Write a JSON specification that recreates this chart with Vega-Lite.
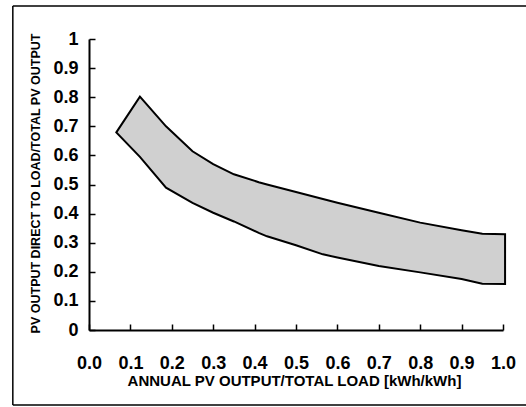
{
  "$schema": "https://vega.github.io/schema/vega-lite/v6.json",
  "width": 414,
  "height": 291,
  "autosize": {"type": "none"},
  "padding": {"left": 89, "top": 39, "right": 23, "bottom": 77},
  "background": "white",
  "config": {
    "view": {"stroke": null},
    "font": "Liberation Sans"
  },
  "resolve": {"axis": {"x": "independent", "y": "independent"}},
  "data": {
    "values": [
      {"x": 0.066, "upper": 0.679, "lower": 0.679},
      {"x": 0.123, "upper": 0.802, "lower": 0.595},
      {"x": 0.186, "upper": 0.70, "lower": 0.489},
      {"x": 0.25, "upper": 0.614, "lower": 0.437},
      {"x": 0.30, "upper": 0.57, "lower": 0.403},
      {"x": 0.35, "upper": 0.535, "lower": 0.373},
      {"x": 0.41, "upper": 0.508, "lower": 0.334},
      {"x": 0.43, "upper": 0.50, "lower": 0.322},
      {"x": 0.50, "upper": 0.474, "lower": 0.291},
      {"x": 0.565, "upper": 0.45, "lower": 0.26},
      {"x": 0.60, "upper": 0.437, "lower": 0.249},
      {"x": 0.70, "upper": 0.403, "lower": 0.22},
      {"x": 0.80, "upper": 0.369, "lower": 0.198},
      {"x": 0.90, "upper": 0.343, "lower": 0.175},
      {"x": 0.95, "upper": 0.331, "lower": 0.159},
      {"x": 1.005, "upper": 0.329, "lower": 0.158}
    ]
  },
  "layer": [
    {
      "mark": {"type": "area", "fill": "#d0d0d0", "stroke": "black", "strokeWidth": 2, "strokeJoin": "miter", "clip": false},
      "encoding": {
        "x": {
          "field": "x", "type": "quantitative",
          "scale": {"domain": [0, 1], "nice": false, "zero": false},
          "axis": {
            "title": "ANNUAL PV OUTPUT/TOTAL LOAD [kWh/kWh]",
            "values": [0, 0.1, 0.2, 0.3, 0.4, 0.5, 0.6, 0.7, 0.8, 0.9, 1.0],
            "format": ".1f",
            "grid": false,
            "domainColor": "black",
            "domainWidth": 2,
            "tickColor": "black",
            "tickWidth": 1.5,
            "tickSize": -6,
            "labelColor": "black",
            "labelFont": "Liberation Sans",
            "labelFontWeight": "bold",
            "labelFontSize": 18,
            "labelOverlap": false,
            "labelFlush": false,
            "labelPadding": 30,
            "titleColor": "black",
            "titleFont": "Liberation Sans",
            "titleFontWeight": "bold",
            "titleFontSize": 15,
            "titleBaseline": "alphabetic",
            "titleY": 55,
            "titleX": 205
          }
        },
        "y": {
          "field": "upper", "type": "quantitative",
          "scale": {"domain": [0, 1], "nice": false, "zero": false},
          "axis": {
            "title": "PV OUTPUT DIRECT TO LOAD/TOTAL PV OUTPUT",
            "values": [0, 0.1, 0.2, 0.3, 0.4, 0.5, 0.6, 0.7, 0.8, 0.9, 1.0],
            "format": "~g",
            "grid": false,
            "domainColor": "black",
            "domainWidth": 2,
            "tickColor": "black",
            "tickWidth": 1.5,
            "tickSize": -6,
            "labelColor": "black",
            "labelFont": "Liberation Sans",
            "labelFontWeight": "bold",
            "labelFontSize": 18,
            "labelOverlap": false,
            "labelFlush": false,
            "labelPadding": 17,
            "titleColor": "black",
            "titleFont": "Liberation Sans",
            "titleFontWeight": "bold",
            "titleFontSize": 12.5,
            "titleBaseline": "alphabetic",
            "titleX": -50,
            "titleY": 144
          }
        },
        "y2": {"field": "lower"}
      }
    },
    {
      "data": {"values": [{}]},
      "mark": {"type": "rule", "color": "black", "strokeWidth": 1.5},
      "encoding": {
        "x": {"datum": -0.184, "type": "quantitative", "axis": null},
        "y": {"datum": -0.258, "type": "quantitative", "axis": null},
        "y2": {"datum": 1.113}
      }
    },
    {
      "data": {"values": [{}]},
      "mark": {"type": "rule", "color": "black", "strokeWidth": 1.5},
      "encoding": {
        "x": {"datum": -0.184, "type": "quantitative", "axis": null},
        "x2": {"datum": 1.06},
        "y": {"datum": 1.113, "type": "quantitative", "axis": null}
      }
    },
    {
      "data": {"values": [{}]},
      "mark": {"type": "rule", "color": "black", "strokeWidth": 1.5},
      "encoding": {
        "x": {"datum": -0.184, "type": "quantitative", "axis": null},
        "x2": {"datum": 1.06},
        "y": {"datum": -0.258, "type": "quantitative", "axis": null}
      }
    }
  ]
}
